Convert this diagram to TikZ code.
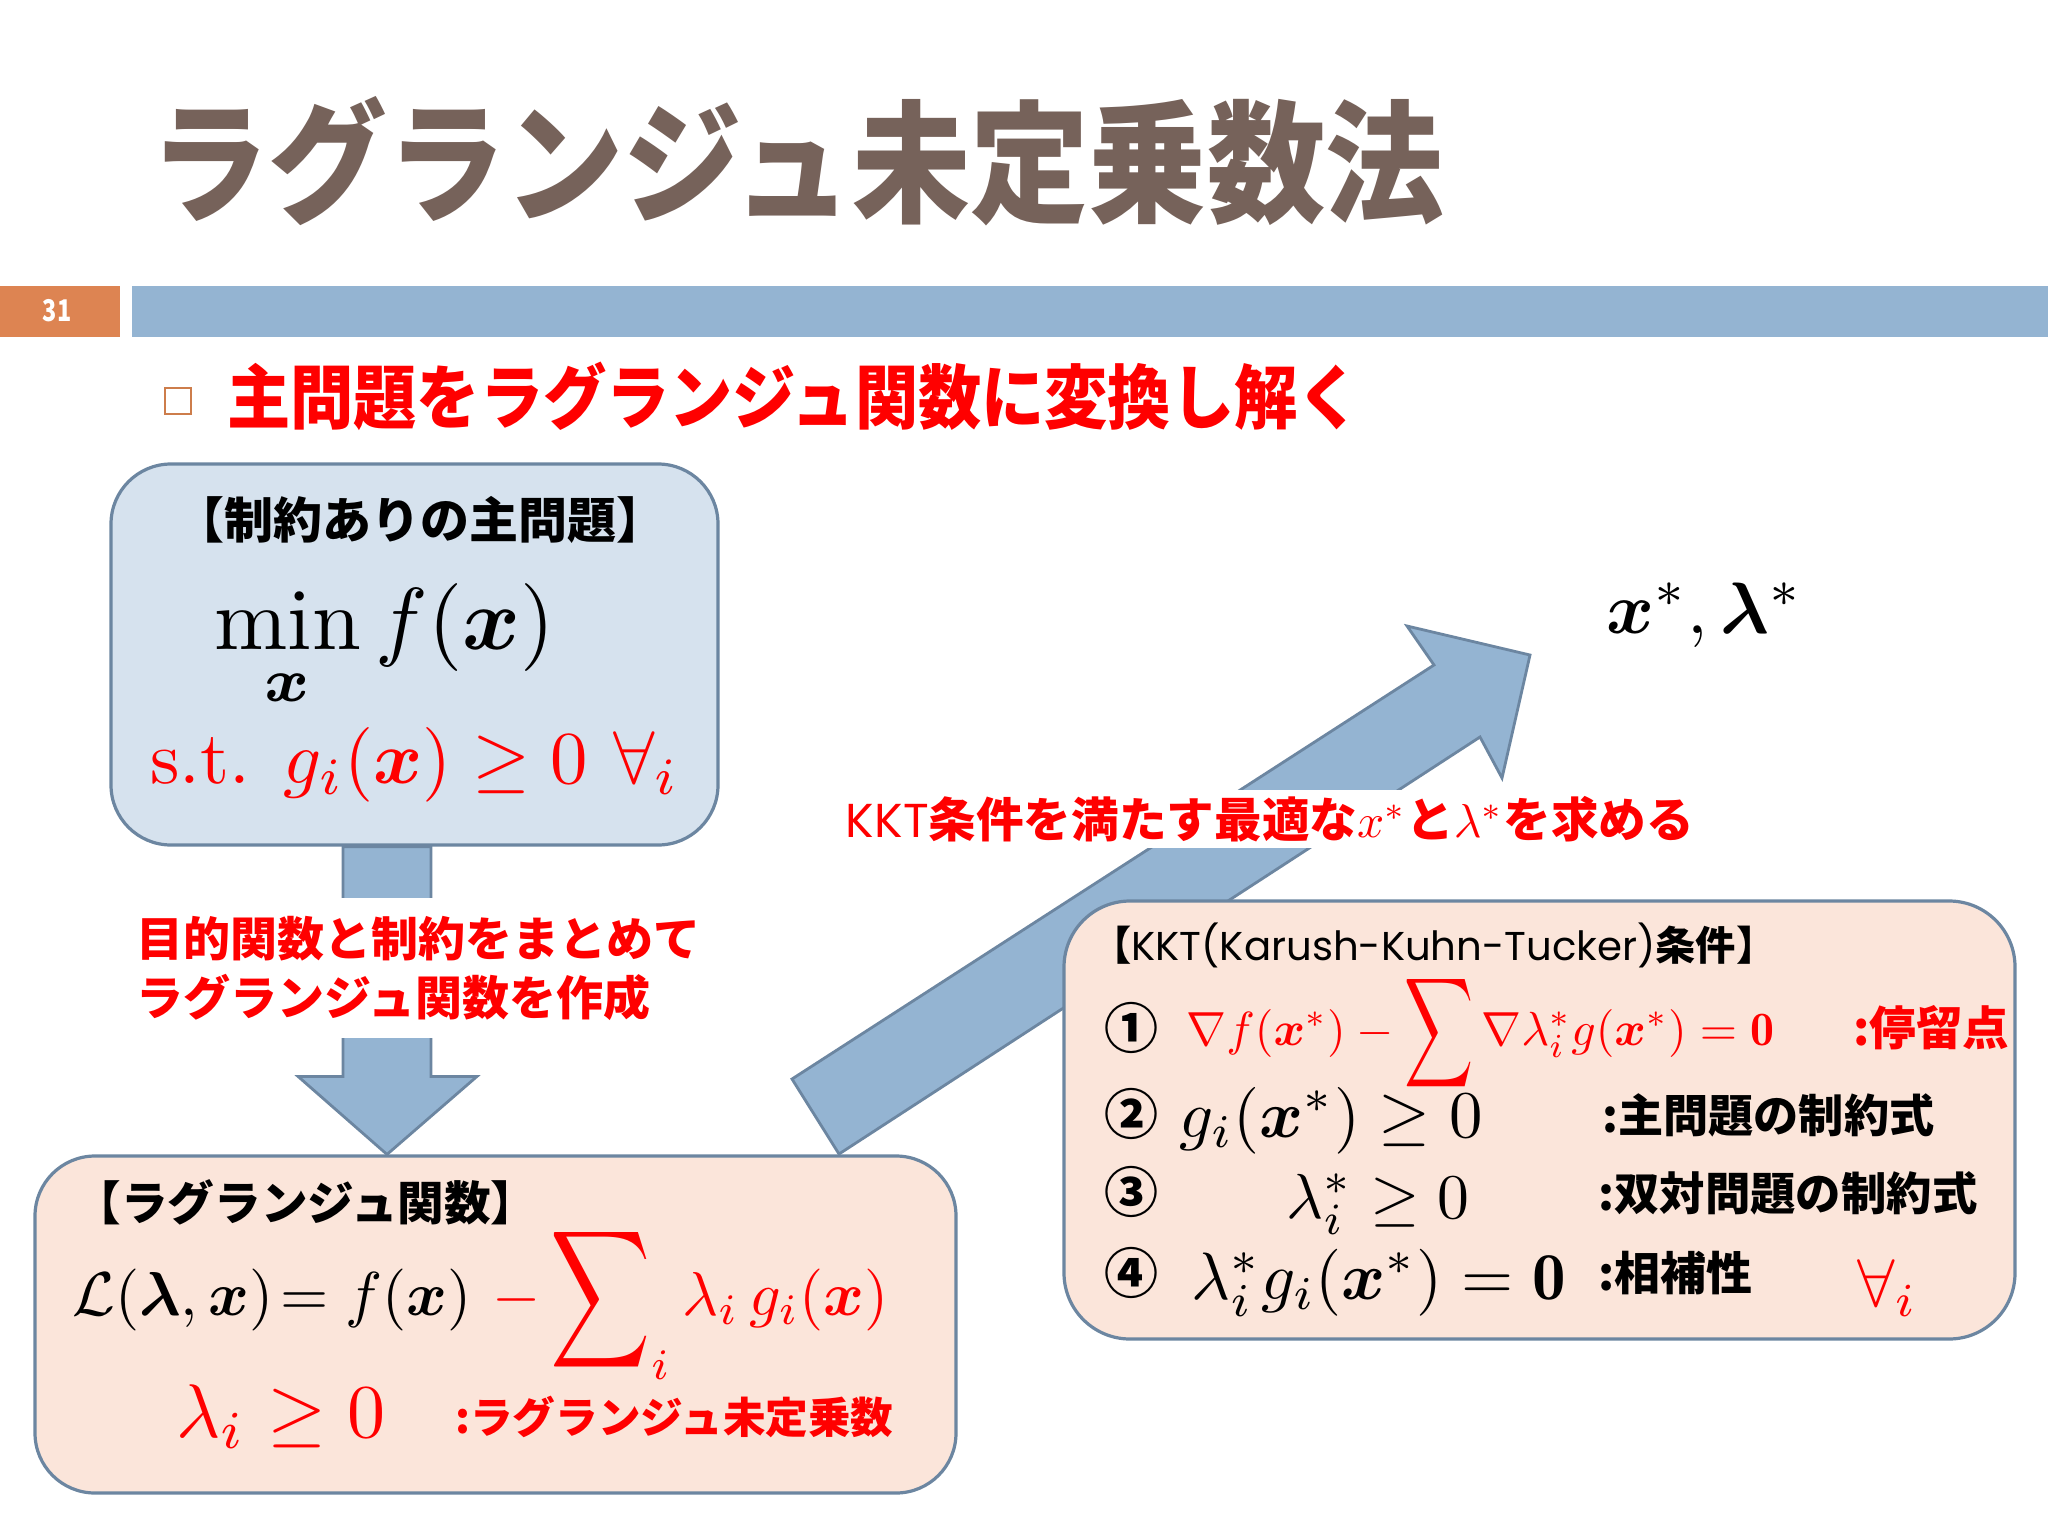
\RequirePackage{fix-cm}
\documentclass[tikz,border=0pt]{standalone}
\usepackage{amsmath}
\usepackage{bm}
\usepackage{graphicx}
\usepackage{fontspec}
\newfontfamily\jp{Noto Sans CJK JP}
\newfontfamily\lat{Poppins}
\usetikzlibrary{calc,backgrounds}
\definecolor{titlec}{RGB}{118,98,90}
\definecolor{barc}{RGB}{148,180,210}
\definecolor{numc}{RGB}{221,132,82}
\definecolor{bordc}{RGB}{108,134,161}
\definecolor{bfill}{RGB}{214,226,238}
\definecolor{pfill}{RGB}{251,229,218}
\definecolor{bulletc}{RGB}{205,125,75}
\newcommand\Bsum[2]{\mathop{\vcenter{\hbox{\scalebox{#1}[#2]{$\displaystyle\sum$}}}}}
\begin{document}
\begin{tikzpicture}[x=0.5pt,y=-0.5pt,
  blockbox/.style={draw=bordc,line width=1.6pt,rounded corners=30pt,inner sep=0pt},
  blockarrow/.style={fill=barc,draw=bordc,line width=1.4pt,line join=miter},
  lbl/.style={inner sep=0pt},
  circ/.style={inner sep=0pt, font=\jp\bfseries\fontsize{27}{29}\selectfont},
]
\useasboundingbox (0,0) rectangle (2048,1536);

% boxes
\node[blockbox, fill=bfill, minimum width=303.5pt, minimum height=190.5pt] (prob) at (414.5,654.5) {};
\node[blockbox, fill=pfill, minimum width=460.5pt, minimum height=168.5pt] (lag) at (495.5,1324.5) {};
\node[blockbox, fill=pfill, rounded corners=33pt, minimum width=475.5pt, minimum height=219pt] (kkt) at (1539.5,1120) {};

\begin{pgfonlayer}{background}
\fill[white] (0,0) rectangle (2048,1536);
\fill[numc] (0,286) rectangle (120,337);
\fill[barc] (132,286) rectangle (2048,337);
% down block arrow
\coordinate (dtop) at ($(prob.south)+(-27.5,0)$);
\coordinate (dtip) at ($(lag.north)+(-108.5,0)$);
\draw[blockarrow] ($(dtop)+(-44,0)$) -- ($(dtop)+(44,0)$) -- ($(dtip)+(44,-78)$)
  -- ($(dtip)+(90,-78)$) -- (dtip) -- ($(dtip)+(-89,-78)$) -- ($(dtip)+(-44,-78)$) -- cycle;
% diagonal block arrow
\coordinate (atail) at (815.5,1116.5);
\coordinate (ahead) at (1530,655);
\draw[blockarrow] (792,1079) -- (1434,665) -- (1407,626) -- (ahead) -- (1502,778)
  -- (1480,737) -- (839,1154) -- cycle;
\end{pgfonlayer}

% header
\node[lbl, text=titlec, font=\jp\bfseries\fontsize{58}{60}\selectfont] (title) at (797,161) {\scalebox{1.02}[1.14]{ラグランジュ未定乗数法}};
\node[lbl, text=white, font=\jp\bfseries\fontsize{13}{13}\selectfont] (num) at (57,311) {\scalebox{0.9}[1.15]{31}};
\node[draw=bulletc, line width=1pt, minimum size=13pt, inner sep=0pt] (bul) at (178,401) {};
\node[lbl, text=red, font=\jp\bfseries\fontsize{31}{33}\selectfont] (sub) at (794,396) {\scalebox{1.02}[1.13]{主問題をラグランジュ関数に変換し解く}};

% box 1
\node[lbl, font=\jp\bfseries\fontsize{24.5}{26}\selectfont] (h1) at (420,520) {【制約ありの主問題】};
\node[lbl, anchor=base west] (minf) at (214,649) {\resizebox{170pt}{!}{$\displaystyle\min_{\bm{x}} f(\bm{x})$}};
\node[lbl, anchor=base west, text=red] (st) at (150,783) {\resizebox{264.5pt}{!}{s.t. $g_i(\bm{x}) \geq 0\ \forall_i$}};

% down label
\node[fill=white, inner xsep=4pt, inner ysep=9pt, anchor=west, align=left, text=red,
  font=\jp\bfseries\fontsize{23.5}{29.5}\selectfont] (mk) at (128,968)
  {目的関数と制約をまとめて\\ラグランジュ関数を作成};

% box 2
\node[lbl, font=\jp\bfseries\fontsize{23.3}{25}\selectfont] (h2) at (306,1202) {【ラグランジュ関数】};
\node[lbl, anchor=base west] (lagf) at (72,1315)
  {\resizebox{408pt}{!}{$\mathcal{L}(\bm{\lambda},\bm{x})\!= f(\bm{x})\ {\color{red}-\Bsum{1.12}{1.55}\nolimits_i\lambda_i\,g_i(\bm{x})}$}};
\node[lbl, anchor=base west, text=red] (lam) at (176,1437) {\resizebox{104.5pt}{!}{$\lambda_i \geq 0$}};
\node[lbl, anchor=west, text=red] (mult) at (455,1417) {\resizebox{219pt}{!}{\jp\bfseries :ラグランジュ未定乗数}};

% result
\node[lbl, anchor=base west] (res) at (1606,633) {\resizebox{98pt}{!}{$\bm{x}^*,\bm{\lambda}^*$}};
\node[fill=white, inner xsep=3pt, inner ysep=3pt, text=red] (kl) at (1270,819)
  {\resizebox{424pt}{!}{\jp\bfseries{\lat\mdseries KKT}条件を満たす最適な$x^*$と$\lambda^*$を求める}};

% box 3
\node[lbl, anchor=west] (h3) at (1091,945) {\resizebox{342.5pt}{!}{\jp\bfseries 【{\lat\mdseries KKT(Karush-Kuhn-Tucker)}条件】}};
\node[circ] (c1) at (1131,1028) {①};
\node[circ] (c2) at (1131,1114) {②};
\node[circ] (c3) at (1131,1192) {③};
\node[circ] (c4) at (1131,1273) {④};
\node[lbl, anchor=base west, text=red] (r1) at (1186,1045)
  {\resizebox{294pt}{!}{$\nabla f(\bm{x}^*)-\Bsum{1}{1.6}\nabla\lambda_i^* g(\bm{x}^*)=\mathbf{0}$}};
\node[lbl, anchor=west, text=red] (s1) at (1853,1028) {\resizebox{78pt}{!}{\jp\bfseries :停留点}};
\node[lbl, anchor=base west] (r2) at (1179,1137) {\resizebox{151.5pt}{!}{$g_i(\bm{x}^*)\geq 0$}};
\node[lbl, anchor=west] (s2) at (1602,1115) {\resizebox{166pt}{!}{\jp\bfseries :主問題の制約式}};
\node[lbl, anchor=base west] (r3) at (1286,1218) {\resizebox{91.5pt}{!}{$\lambda_i^*\geq 0$}};
\node[lbl, anchor=west] (s3) at (1598,1193) {\resizebox{189.5pt}{!}{\jp\bfseries :双対問題の制約式}};
\node[lbl, anchor=base west] (r4) at (1191,1299) {\resizebox{187pt}{!}{$\lambda_i^* g_i(\bm{x}^*) = \mathbf{0}$}};
\node[lbl, anchor=west] (s4) at (1598,1273) {\resizebox{77pt}{!}{\jp\bfseries :相補性}};
\node[lbl, anchor=base west, text=red] (fa) at (1857,1306) {\resizebox{30pt}{!}{$\forall_i$}};
\end{tikzpicture}
\end{document}
